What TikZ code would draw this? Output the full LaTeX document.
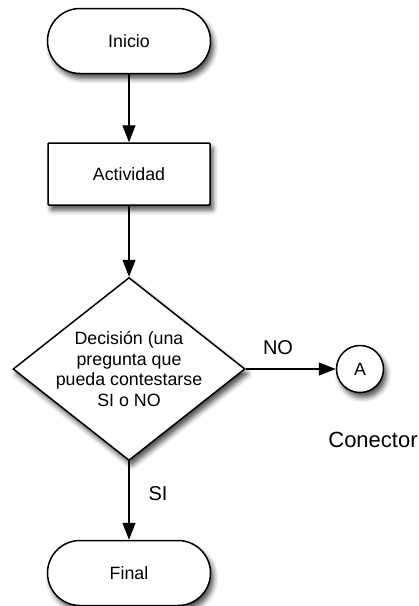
\documentclass[tikz,border=0pt]{standalone}
\usepackage{fontspec}
\setmainfont{Liberation Sans}
\usetikzlibrary{shapes.misc,shapes.geometric,arrows.meta,shadows.blur}
\begin{document}
\begin{tikzpicture}[x=1pt,y=-1pt,
  shade/.style={blur shadow={shadow xshift=3pt,shadow yshift=-5pt,shadow blur radius=5pt,shadow opacity=70}},
  boxfont/.style={font=\fontsize{17.8}{20.5}\selectfont},
  terminal/.style={rounded rectangle,draw,line width=1.5pt,fill=white,shade,
    minimum width=163pt,minimum height=65pt,inner sep=0pt,boxfont},
  process/.style={rectangle,rounded corners=1pt,draw,line width=1.5pt,fill=white,shade,
    minimum width=162pt,minimum height=62pt,inner sep=0pt,boxfont},
  decision/.style={diamond,draw,line width=1.5pt,fill=white,shade,
    minimum width=232pt,minimum height=183pt,inner sep=0pt},
  connector/.style={circle,draw,line width=1.5pt,fill=white,shade,
    minimum size=47pt,inner sep=0pt,boxfont},
  flow/.style={line width=1.3pt,-{Triangle[length=17pt,width=13pt]}},
  lbl/.style={font=\fontsize{20}{24}\selectfont,inner sep=0pt}
]
\useasboundingbox (0,0) rectangle (419,606);

\node[terminal] (inicio) at (129,41) {Inicio};
\node[process] (act) at (129,174) {Actividad};
\node[decision] (dec) at (129,369) {};
\node[align=center,boxfont,inner sep=0pt] (dectext) at (129,369)
  {Decisión (una\\pregunta que\\pueda contestarse\\SI o NO};
\node[connector] (conA) at (360,369) {A};
\node[terminal] (final) at (129,573) {Final};

\draw[flow] (inicio.south) -- (act.north);
\draw[flow] (act.south) -- (dec.north);
\draw[flow] (dec.east) -- (conA.west);
\draw[flow] (dec.south) -- (final.north);

\node[lbl] (no) at (278,348) {NO};
\node[lbl] (si) at (158,494) {SI};
\node[font=\fontsize{22}{26}\selectfont,inner sep=0pt] (conlbl) at (373,440) {Conector};
\end{tikzpicture}
\end{document}
